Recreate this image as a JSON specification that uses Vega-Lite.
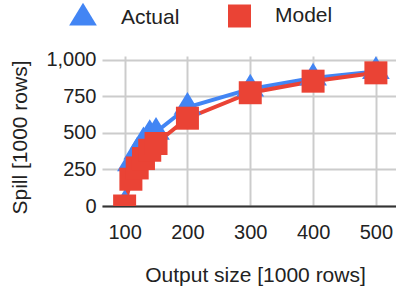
{
  "$schema": "https://vega.github.io/schema/vega-lite/v6.json",
  "autosize": {"type": "none"},
  "width": 294,
  "height": 150,
  "padding": {"left": 102, "top": 56, "right": 0, "bottom": 85},
  "background": "white",
  "config": {"view": {"stroke": null}, "font": "Liberation Sans"},
  "data": {"values": [
    {"series": "Actual", "x": 100, "y": 10},
    {"series": "Actual", "x": 110, "y": 290},
    {"series": "Actual", "x": 120, "y": 370},
    {"series": "Actual", "x": 130, "y": 440},
    {"series": "Actual", "x": 140, "y": 490},
    {"series": "Actual", "x": 150, "y": 505},
    {"series": "Actual", "x": 200, "y": 675},
    {"series": "Actual", "x": 300, "y": 800},
    {"series": "Actual", "x": 400, "y": 875},
    {"series": "Actual", "x": 500, "y": 920},
    {"series": "Model", "x": 100, "y": 0},
    {"series": "Model", "x": 110, "y": 183},
    {"series": "Model", "x": 120, "y": 260},
    {"series": "Model", "x": 130, "y": 324},
    {"series": "Model", "x": 140, "y": 381},
    {"series": "Model", "x": 150, "y": 427},
    {"series": "Model", "x": 200, "y": 600},
    {"series": "Model", "x": 300, "y": 774},
    {"series": "Model", "x": 400, "y": 853},
    {"series": "Model", "x": 500, "y": 910}
  ]},
  "encoding": {
    "x": {"field": "x", "type": "quantitative",
      "scale": {"domain": [64, 532], "nice": false, "zero": false},
      "axis": {"values": [100, 200, 300, 400, 500], "format": "d", "grid": true, "gridColor": "#cccccc", "gridWidth": 2,
        "ticks": false, "domain": true, "domainColor": "#333333", "domainWidth": 2,
        "labelFontSize": 20, "labelColor": "#222222", "labelPadding": 16,
        "title": "Output size [1000 rows]", "titleFontSize": 21, "titleFontWeight": "normal", "titleColor": "#222222",
        "titleX": 153, "titleY": 75, "titleBaseline": "alphabetic", "titleAlign": "center"}},
    "y": {"field": "y", "type": "quantitative",
      "scale": {"domain": [0, 1025], "nice": false},
      "axis": {"values": [0, 250, 500, 750, 1000], "format": ",d", "grid": true, "gridColor": "#cccccc", "gridWidth": 2,
        "ticks": false, "domain": false, "labelFontSize": 20, "labelColor": "#222222", "labelPadding": 6,
        "title": "Spill [1000 rows]", "titleFontSize": 21, "titleFontWeight": "normal", "titleColor": "#222222",
        "titleX": -76, "titleY": 81, "titleBaseline": "alphabetic", "titleAlign": "center", "titleAngle": -90}},
    "color": {"field": "series", "type": "nominal",
      "scale": {"domain": ["Actual", "Model"], "range": ["#4285F4", "#EA4335"]},
      "legend": {"orient": "none", "direction": "horizontal", "legendX": -33, "legendY": -52, "title": null,
        "labelFontSize": 21, "labelColor": "#222222", "labelOffset": 24, "columnPadding": 48, "symbolStrokeWidth": 0, "padding": 0}}
  },
  "layer": [
    {"mark": {"type": "line", "strokeWidth": 4, "clip": true}},
    {"mark": {"type": "point", "filled": true, "opacity": 1, "strokeWidth": 0, "clip": true},
      "encoding": {
        "shape": {"field": "series", "type": "nominal",
          "scale": {"domain": ["Actual", "Model"], "range": ["M0,-1.093L1,0.547L-1,0.547Z", "square"]}},
        "size": {"field": "series", "type": "nominal",
          "scale": {"domain": ["Actual", "Model"], "range": [767, 529]}}
      }}
  ]
}
